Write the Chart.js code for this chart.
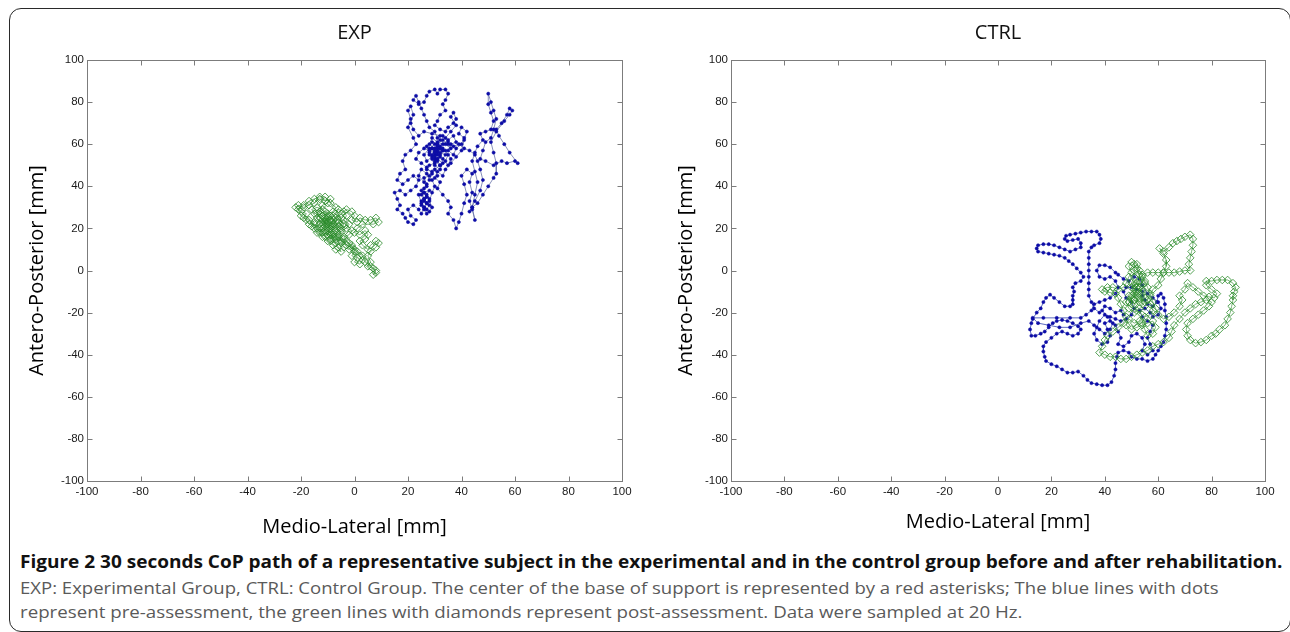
<!DOCTYPE html>
<html>
<head>
<meta charset="utf-8">
<script src="https://cdn.jsdelivr.net/npm/chart.js@4.4.1/dist/chart.umd.min.js"></script>
<style>
  html, body { margin: 0; padding: 0; background: #fff; }
  body { width: 1290px; height: 632px; position: relative; overflow: hidden; }
  #frame { position: absolute; left: 9px; top: 8px; width: 1282px; height: 624px; box-sizing: border-box;
           border: 1.6px solid #2a2a2a; border-radius: 12px; }
  canvas { position: absolute; top: 0; }
  #c1 { left: 0; }
  #c2 { left: 645px; }
  .cap { position: absolute; left: 20px; white-space: nowrap; transform-origin: 0 50%; font-family: "Open Sans", sans-serif; }
  #l1 { font-weight: 700; font-size: 17.5px; color: #111; top: 550px; line-height: 22px; }
  #l2, #l3 { font-weight: 400; font-size: 17px; color: #5a5a5a; line-height: 22px; }
  #l2 { top: 577px; }
  #l3 { top: 601px; }
</style>
</head>
<body>
<div id="frame"></div>
<canvas id="c1" width="645" height="545"></canvas>
<canvas id="c2" width="645" height="545"></canvas>
<div class="cap" id="l1"></div>
<div class="cap" id="l2"></div>
<div class="cap" id="l3"></div>
<script>
// ---------------- data ----------------
const panelTitles = ['EXP', 'CTRL'];
const xAxisTitle = 'Medio-Lateral [mm]';
const yAxisTitle = 'Antero-Posterior [mm]';
const tickValues = [-100, -80, -60, -40, -20, 0, 20, 40, 60, 80, 100];
const captionBold = 'Figure 2 30 seconds CoP path of a representative subject in the experimental and in the control group before and after rehabilitation.';
const captionLine2 = 'EXP: Experimental Group, CTRL: Control Group. The center of the base of support is represented by a red asterisks; The blue lines with dots';
const captionLine3 = 'represent pre-assessment, the green lines with diamonds represent post-assessment. Data were sampled at 20 Hz.';

// EXP, pre-assessment (blue dots) [ML, AP] in mm
const expPre = [
 [30,55],[31,57],[29,58],[28,56],[30,53],[32,54],[33,57],[31,60],[29,61],[27,59],[28,55],[30,52],[32,50],[34,52],[35,55],[33,58],[31,56],[29,54],[27,52],[26,55],[28,58],[30,60],[32,62],[34,60],[36,58],[35,61],[33,64],[31,63],
 [30,66],[28,68],[27,71],[26,74],[25,77],[24,80],[23,83],[22,81],[24,79],[26,80],[27,83],[28,85],[30,86],[31,84],[32,86],[34,86],[35,84],[34,81],[33,79],[34,76],[32,74],[31,71],[30,69],[32,67],[34,66],[35,68],[37,70],[38,72],[37,75],[36,73],[38,69],[36,66],[34,63],
 [32,64],[29,65],[26,66],[24,64],[22,67],[21,70],[22,74],[21,78],[20,76],[21,72],[20,68],[22,63],[23,60],[21,57],[19,55],[18,52],[19,48],[17,46],[16,43],[18,41],[20,43],[22,45],[24,43],[23,40],[21,38],[19,36],[17,38],[15,37],[16,34],[17,31],[16,29],[18,27],[19,25],[20,23],[22,22],[23,24],[21,26],[20,29],[22,31],[24,29],[25,27],[26,30],[25,33],[27,35],[26,37],[24,36],[25,32],[27,29],[28,31],[26,34],[25,38],[27,40],[26,42],[24,45],[25,48],[27,46],[28,43],[29,46],[27,49],[25,51],[23,53],[24,56],[26,58],
 [28,57],[30,56],[32,58],[31,55],[29,53],[30,50],[32,48],[33,51],[31,53],[32,56],[34,55],[33,53],[35,50],[36,53],[34,57],[32,59],[30,58],[28,60],[29,63],[31,61],[33,60],[35,62],[37,64],[38,61],[36,60],[35,57],[37,55],[38,58],[40,60],[41,63],[39,65],[40,68],[42,66],[41,62],[40,57],[38,54],[36,51],[34,48],[33,45],[31,47],[30,44],[32,42],[31,39],
 [33,36],[35,33],[36,30],[35,27],[37,24],[38,20],[39,23],[40,27],[41,32],[42,36],[41,41],[40,45],[42,48],[44,46],[43,42],[44,37],[43,33],[44,29],[45,24],[44,30],[45,36],[46,42],[45,47],[44,52],[45,56],[46,59],[48,62],[47,65],[49,66],[51,67],[52,71],[51,75],[50,79],[50,84],[51,80],[52,76],[53,72],[52,67],[51,63],[49,61],[48,57],[47,53],[49,52],[52,50],
 [55,52],[57,51],[60,52],[61,51],[58,56],[56,60],[54,64],[53,67],[55,70],[57,74],[58,77],[59,76],[58,74],[56,71],[53,66],[51,61],[52,56],[53,51],[53,46],[52,44],[50,40],[48,36],[46,32],[44,30],[43,28],[45,33],[47,38],[48,43],[47,48],[46,52],[45,55],[43,57],[41,58],[39,60],[37,59],[35,60],[33,62],[31,60],[30,57],
 [29,55],[31,53],[30,51],[28,50],[27,48],[29,47],[28,45],[26,44],[27,41],[26,39],[25,36],[26,34],[27,32],[26,30],[25,31],[26,33],[27,35],[26,37],[28,38],[27,36],[28,34],[27,32],[26,29],[27,27],[28,28],[29,30],[28,33],[29,37],[30,40],[29,43],[31,45],[30,48],[32,50],[31,52],[30,54],[32,55],[33,57],[31,58],[30,56],[29,58],[31,59]
];

// EXP, post-assessment (green diamonds)
const expPost = [
 [-10,22],[-9,24],[-11,25],[-12,23],[-10,20],[-8,21],[-7,23],[-9,26],[-11,28],[-13,27],[-14,25],[-12,22],[-11,19],[-9,18],[-7,19],[-6,21],[-8,24],[-10,26],[-12,29],[-14,30],[-16,29],[-15,27],[-13,28],[-12,31],[-10,32],[-9,34],[-11,33],[-13,34],[-15,32],[-17,31],[-19,30],[-21,31],[-22,30],[-20,28],[-18,27],[-19,25],[-17,24],[-15,23],[-16,21],[-14,20],[-12,18],[-10,17],[-8,16],[-6,17],[-5,19],[-4,21],[-6,23],[-5,25],[-7,27],[-6,29],[-4,28],[-3,26],[-4,24],[-2,22],[-3,20],[-1,19],[-2,17],[-4,16],[-3,14],[-5,13],[-4,11],[-2,10],[-1,12],[0,9],[-1,7],[1,6],[0,4],[2,3],[3,5],[2,7],[0,10],[-2,13],[-4,15],[-6,14],[-7,16],[-9,15],[-8,17],[-10,19],[-12,20],[-13,18],[-11,16],[-9,14],[-7,13],[-6,11],[-5,9],[-7,10],[-8,12],[-10,14],[-12,16],[-14,18],[-15,20],[-13,22],[-11,24],[-9,23],[-7,25],[-5,27],[-3,29],[-1,28],[0,26],[-1,24],[1,23],[2,25],[4,24],[6,24],[8,25],[9,23],[7,22],[3,22],[1,20],[0,18],[2,17],[4,19],[5,17],[4,15],[2,14],[3,12],[5,10],[6,12],[8,14],[9,13],[8,11],[6,9],[5,7],[6,4],[5,2],[7,1],[8,-1],[7,-2],[8,0],[6,2],[4,4],[3,7],[1,9],[-1,11],[-3,12],[-5,14],[-7,15],[-9,17],[-11,18],[-13,20],[-15,22],[-17,22],[-18,24],[-20,26],[-21,29],[-19,31],[-17,33],[-15,34],[-13,35],[-11,35],[-9,32],[-7,30],[-8,28],[-10,27],[-12,26],[-14,27],[-13,25],[-11,23],[-9,21],[-7,20],[-5,18],[-6,16],[-8,18],[-10,21],[-12,24],[-10,25],[-8,26],[-6,24],[-4,22],[-5,20],[-7,21],[-9,20],[-11,21],[-10,23],[-8,22]
];

// CTRL, pre-assessment (blue dots)
const ctrlPre = [
 [38,-20],[36,-18],[35,-15],[34,-12],[34,-9],[34,-6],[34,-3],[34,0],[34,3],[34,6],[34,9],[35,11],[36,12],[38,13],[38.5,15],[38,17],[37,18.5],[35,18.5],[33,18.5],[31,18],[29,17.5],[27,17],[25.5,16.5],[25,15],[26,14],[28,14.5],[30,15],[31,13],[31,11],[29,10],[27,9],[25,10],[23,11],[21,12],[19,12.5],[17,12.5],[15,12],[14.5,10.5],[15,9],[17,8.5],[19,8],[21,7.5],[23,7],[25,6],[26.5,4.5],[28,3],[29.5,1],[31,-1],[32,-3],[31,-5],[29,-6],[28,-8],[28.5,-10],[28,-12],[28,-14],[28,-16],[27,-17],[25,-17],[23,-15],[21,-13],[19.5,-11.5],[18,-13],[17,-15],[16,-18],[14.5,-20],[13,-23],[12.5,-25],[12,-28],[12.5,-31],[14,-31],[16,-30],[17.5,-29],[19,-27],[20.5,-25],[22,-24],[24,-23.5],[26,-24],[28,-25],[30,-26.5],[31,-28],[30,-30],[28,-31],[26,-30],[24,-29],[22,-30],[20,-32],[18,-34],[17,-36],[17,-38.5],[17.5,-41],[18,-43],[20,-44.5],[22,-45.5],[24,-47],[26,-48.5],[28,-48.5],[30,-48],[32,-50],[33.5,-52],[35,-53.5],[37,-54],[39,-54.5],[41,-54.5],[42.5,-53],[43.5,-50],[44,-47],[44,-44],[44.5,-41],[45,-39],[47,-38],[49,-39],[50,-41],[52,-42],[54,-42],[56,-43],[58,-42],[59,-40],[60,-38],[61,-36],[62,-34],[62.5,-31],[63,-28],[63,-25],[63,-22],[62.5,-19],[62.5,-16],[62,-13],[61,-11],[60,-12],[59.5,-15],[58,-17],[56,-16],[55,-14],[54,-12],[54,-10],[52,-9],[50,-8],[48,-8],[47,-10],[48,-13],[50,-15],[51,-18],[50,-21],[48,-23],[46,-24],[44,-23],[42,-22],[40,-21],
 [38,-24],[37,-27],[36,-30],[37,-33],[39,-35],[41,-34],[42,-31],[41,-28],[40,-25],[42,-24],[44,-26],[45,-29],[46,-32],[45,-35],[47,-36],[49,-34],[50,-31],[52,-30],[54,-32],[55,-35],[54,-38],[56,-40],[58,-38],[57,-35],[56,-32],[57,-29],[58,-26],[56,-24],[54,-22],[53,-19],[55,-18],[57,-20],[58,-22],[60,-21],[61,-18],[60,-15],[58,-13],[56,-11],[54,-7],[53,-4],[51,-3],[49,-5],[47,-4],[45,-2],[44,-1],[42,1.5],[40,2.5],[38,2.5],[37,0],[38,-3],[40,-4],[42,-3],[44,-5],[45,-8],[44,-11],[42,-13],[40,-14],[38,-15],[36,-16],[35,-19],[33,-21],[31,-22.5],[27,-22.5],[22,-22.5],[17,-22.5],[13,-22.5],[15,-25],[19,-26],[23,-27],[27,-27],[31,-25],[34,-24],[36,-26],[38,-28],[40,-30],[42,-28],[43,-25],[41,-22],[39,-19],[40,-17],[42,-18],[44,-20],[46,-19],[47,-21]
];

// CTRL, post-assessment (green diamonds)
const ctrlPost = [
 [52,-12],[51,-9],[50,-6],[51,-3],[51,0],[51,3],[52,1],[53,-2],[53,-5],[52,-8],[54,-10],[55,-13],[53,-15],[51,-14],[49,-12],[48,-15],[49,-18],[51,-20],[53,-18],[55,-17],[56,-14],[57,-11],[56,-8],[55,-5],[54,-2],[56,-1],[58,-1],[60,-1],[62,-1],[64,-1],[66,-1],[68,-0.5],[70,0],[72,0],[71.5,3],[72,6],[72.5,9],[73,12],[73,15],[72,17],[70,16],[68.5,15],[67,14],[65.5,13],[64,11],[62,9],[60.5,10.5],[62,8],[63,5],[63,2],[62,-1],[61,-4],[60,-7],[58,-9],[57,-12],[58,-15],[59,-18],[60,-21],[62,-23],[64,-22],[66,-20],[68,-17],[69,-14],[68,-12],[70,-9],[71,-6],[73,-8],[75,-10],[77,-12],[79,-12.5],[81,-13],[82,-11],[80,-9],[78,-7],[78,-5],[80,-5],[82,-4.5],[84,-4.5],[86,-4.5],[88,-6],[89,-8],[88.5,-10],[88,-12],[88,-14],[87.5,-17],[87,-20],[86,-23],[85,-26],[83,-28],[81.5,-30],[80,-31],[78,-33],[76,-34],[74,-34.5],[72,-33],[71,-31],[70.5,-28],[71,-25],[73,-23],[75,-21],[77,-19],[79,-17],[80,-15],[78,-14],[76,-15],[74,-16],[72,-18],[70,-20],[68,-23],[66,-26],[65,-29],[64,-32],[62,-34],[60,-35],[58,-36],[56,-38],[54,-39],[52,-40],[50,-41],[48,-42],[46,-42],[44,-41],[42,-41],[40,-40],[38,-39],[39,-36],[40,-33],[41,-31],[43,-29],[45,-27],[47,-25],[48,-22],[47,-19],[46,-16],[45,-13],[44,-11],[42,-10.5],[40,-10],[39,-9],[41,-8],[43,-8],[45,-9],[47,-8],[48,-6],[49,-3],[50,-1],[49,2],[50,4],[52,3],[53,0],[54,-3],[55,-6],[54,-9],[52,-11],[50,-13],[50,-16],[52,-19],[54,-21],[53,-24],[51,-25],[49,-23],[48,-26],[50,-28],[52,-27],[54,-26],[56,-25],[58,-24],[59,-27],[58,-30],[56,-31],[55,-28],[54,-25],[55,-22],[57,-21],[58,-19],[57,-16],[55,-15],[53,-13],[51,-11],[50,-8],[52,-6],[53,-8],[54,-11],[53,-14],[51,-16],[49,-15],[50,-12],[52,-10],[51,-7],[53,-6]
];

// ---------------- drawing ----------------
const toXY = arr => arr.map(p => ({ x: p[0], y: p[1] }));

const frameTicks = {
  id: 'frameTicks',
  afterDatasetsDraw(chart) {
    const { ctx, chartArea: a, scales: { x, y } } = chart;
    ctx.save();
    ctx.strokeStyle = '#7c7c7c';
    ctx.lineWidth = 1;
    const L = Math.round(a.left) + 0.5, R = Math.round(a.right) + 0.5;
    const T = Math.round(a.top) + 0.5, B = Math.round(a.bottom) + 0.5;
    ctx.strokeRect(L, T, R - L, B - T);
    const len = 5;
    ctx.beginPath();
    x.ticks.forEach(t => {
      const px = Math.round(x.getPixelForValue(t.value)) + 0.5;
      ctx.moveTo(px, B); ctx.lineTo(px, B - len);
      ctx.moveTo(px, T); ctx.lineTo(px, T + len);
    });
    y.ticks.forEach(t => {
      const py = Math.round(y.getPixelForValue(t.value)) + 0.5;
      ctx.moveTo(L, py); ctx.lineTo(L + len, py);
      ctx.moveTo(R, py); ctx.lineTo(R - len, py);
    });
    ctx.stroke();
    ctx.restore();
  }
};

function makeChart(id, title, pre, post, opt) {
  const tickFont = { family: '"Liberation Sans", Arial, sans-serif', size: 11.5, weight: 'normal' };
  const titleFont = { family: '"Open Sans", sans-serif', size: 20, weight: 'normal' };
  return new Chart(document.getElementById(id), {
    type: 'scatter',
    data: {
      datasets: [
        {
          label: 'pre',
          data: toXY(pre),
          showLine: true,
          borderColor: opt.preLine,
          borderWidth: 0.8,
          pointStyle: 'circle',
          pointRadius: 1.6,
          pointBackgroundColor: '#0c0ca6',
          pointBorderColor: '#0c0ca6',
          pointBorderWidth: 0.5,
          order: 1
        },
        {
          label: 'post',
          data: toXY(post),
          showLine: true,
          borderColor: '#3f9a3f',
          borderWidth: 0.7,
          pointStyle: 'rectRot',
          pointRadius: 3.8,
          pointBackgroundColor: 'rgba(0,0,0,0)',
          pointBorderColor: '#2a8a2a',
          pointBorderWidth: 0.8,
          order: 0
        }
      ]
    },
    options: {
      responsive: false,
      animation: false,
      devicePixelRatio: 1,
      layout: { padding: { left: 0, right: opt.padRight, top: 0, bottom: 0 } },
      plugins: {
        legend: { display: false },
        tooltip: { enabled: false },
        title: {
          display: true, text: title, fullSize: false,
          font: titleFont, color: '#111',
          padding: { top: 21, bottom: 15 }
        }
      },
      scales: {
        x: {
          type: 'linear', min: -100, max: 100,
          afterBuildTicks: s => { s.ticks = tickValues.map(v => ({ value: v })); },
          afterFit: s => { s.height = 64; s.paddingLeft = 0; s.paddingRight = 0; },
          grid: { display: false, drawTicks: false },
          border: { display: false },
          ticks: { font: tickFont, color: '#1a1a1a', padding: 4, maxRotation: 0, autoSkip: false },
          title: { display: true, text: xAxisTitle, font: titleFont, color: '#000', padding: { top: 0, bottom: opt.xTitlePad } }
        },
        y: {
          type: 'linear', min: -100, max: 100,
          afterBuildTicks: s => { s.ticks = tickValues.map(v => ({ value: v })); },
          afterFit: s => { s.width = opt.yWidth; s.paddingTop = 0; s.paddingBottom = 0; },
          grid: { display: false, drawTicks: false },
          border: { display: false },
          ticks: { font: tickFont, color: '#1a1a1a', padding: 3, autoSkip: false },
          title: { display: true, text: yAxisTitle, font: titleFont, color: '#000', padding: { top: opt.yTitlePad, bottom: 0 } }
        }
      }
    },
    plugins: [frameTicks]
  });
}

makeChart('c1', panelTitles[0], expPre, expPost, { preLine: '#6a74aa', padRight: 23, yWidth: 87, yTitlePad: 25, xTitlePad: 6 });
makeChart('c2', panelTitles[1], ctrlPre, ctrlPost, { preLine: '#3444b0', padRight: 25, yWidth: 86, yTitlePad: 29, xTitlePad: 11 });

// caption
const caps = [['l1', captionBold, 1263], ['l2', captionLine2, 1198], ['l3', captionLine3, 1002]];
caps.forEach(([id, txt]) => { document.getElementById(id).textContent = txt; });
function fitCaps() {
  caps.forEach(([id, , w]) => {
    const el = document.getElementById(id);
    el.style.transform = 'none';
    const s = w / el.scrollWidth;
    el.style.transform = 'scaleX(' + s.toFixed(4) + ')';
  });
}
fitCaps();
if (document.fonts && document.fonts.ready) document.fonts.ready.then(fitCaps);
</script>
</body>
</html>
